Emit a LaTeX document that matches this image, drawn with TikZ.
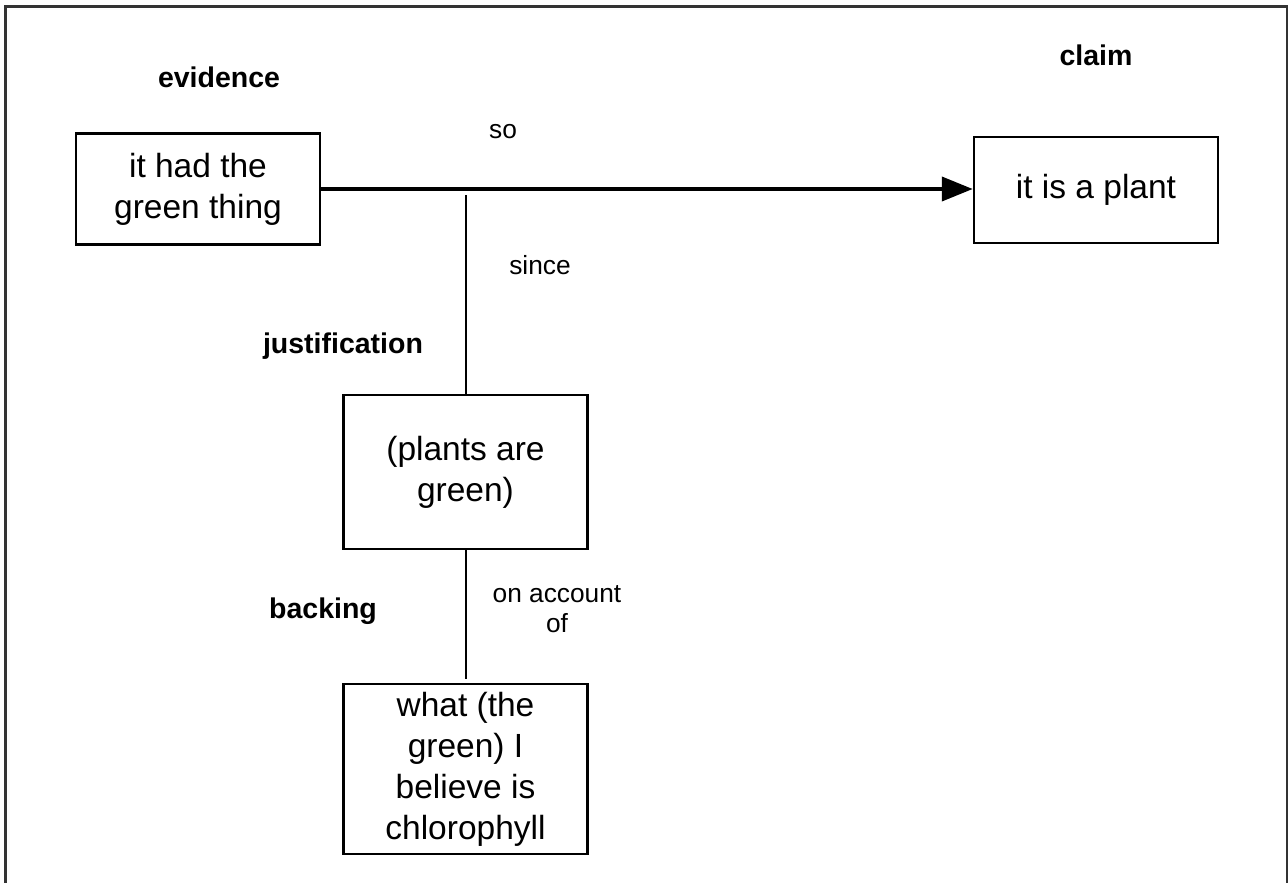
\documentclass[tikz,border=0pt]{standalone}
\usepackage{fontspec}
\setmainfont{Liberation Sans}
\usetikzlibrary{positioning, arrows.meta}

\begin{document}
\begin{tikzpicture}[x=1pt, y=-1pt,
		box/.style={draw, line width=2.5pt, minimum width=244pt, align=center, inner sep=0pt, font=\fontsize{33.5}{41}\selectfont},
		role/.style={anchor=base, font=\fontsize{28.5}{33}\selectfont\bfseries},
		word/.style={align=center, font=\fontsize{26.3}{30}\selectfont},
		link/.style={line width=2pt}]
		
		\useasboundingbox (0,0) rectangle (1288,883);
		
		% Draw frame (open at the bottom)
		\draw[line width=3pt, black!80] (5,883) -- (5,7) -- (1287,7) -- (1287,883);
		
		% Draw boxes
		\node[box, minimum height=111pt] (evid) at (198,189) {it had the\\green thing};
		\node[box, minimum height=106pt] (claim) at (1096,190) {it is a plant};
		\node[box, minimum height=154pt] (just) at (465.5,472) {(plants are\\green)};
		\node[box, minimum height=170pt] (back) at (465.5,769) {what (the\\green) I\\believe is\\chlorophyll};
		
		% Add role labels
		\node[role] (evidlab) at (219,88) {evidence};
		\node[role] (claimlab) at (1096,66) {claim};
		\node[role] (justlab) at (343,353) {justification};
		\node[role] (backlab) at (323,618) {backing};
		
		% Add connector words
		\node[word, anchor=base] (so) at (503,138) {so};
		\node[word, anchor=base] (since) at (540,274) {since};
		\node[word] (onaccount) at (557,609) {on account\\of};
		
		% Draw connectors
		\draw[line width=4pt, -{Triangle[length=31pt, width=24pt]}] (evid.east) -- (evid.east -| claim.west);
		\coordinate (fork) at (465.5,195);
		\draw[link] (fork) -- (just.north);
		\draw[link, shorten >=4pt] (just) -- (back);
		
	\end{tikzpicture}
\end{document}
